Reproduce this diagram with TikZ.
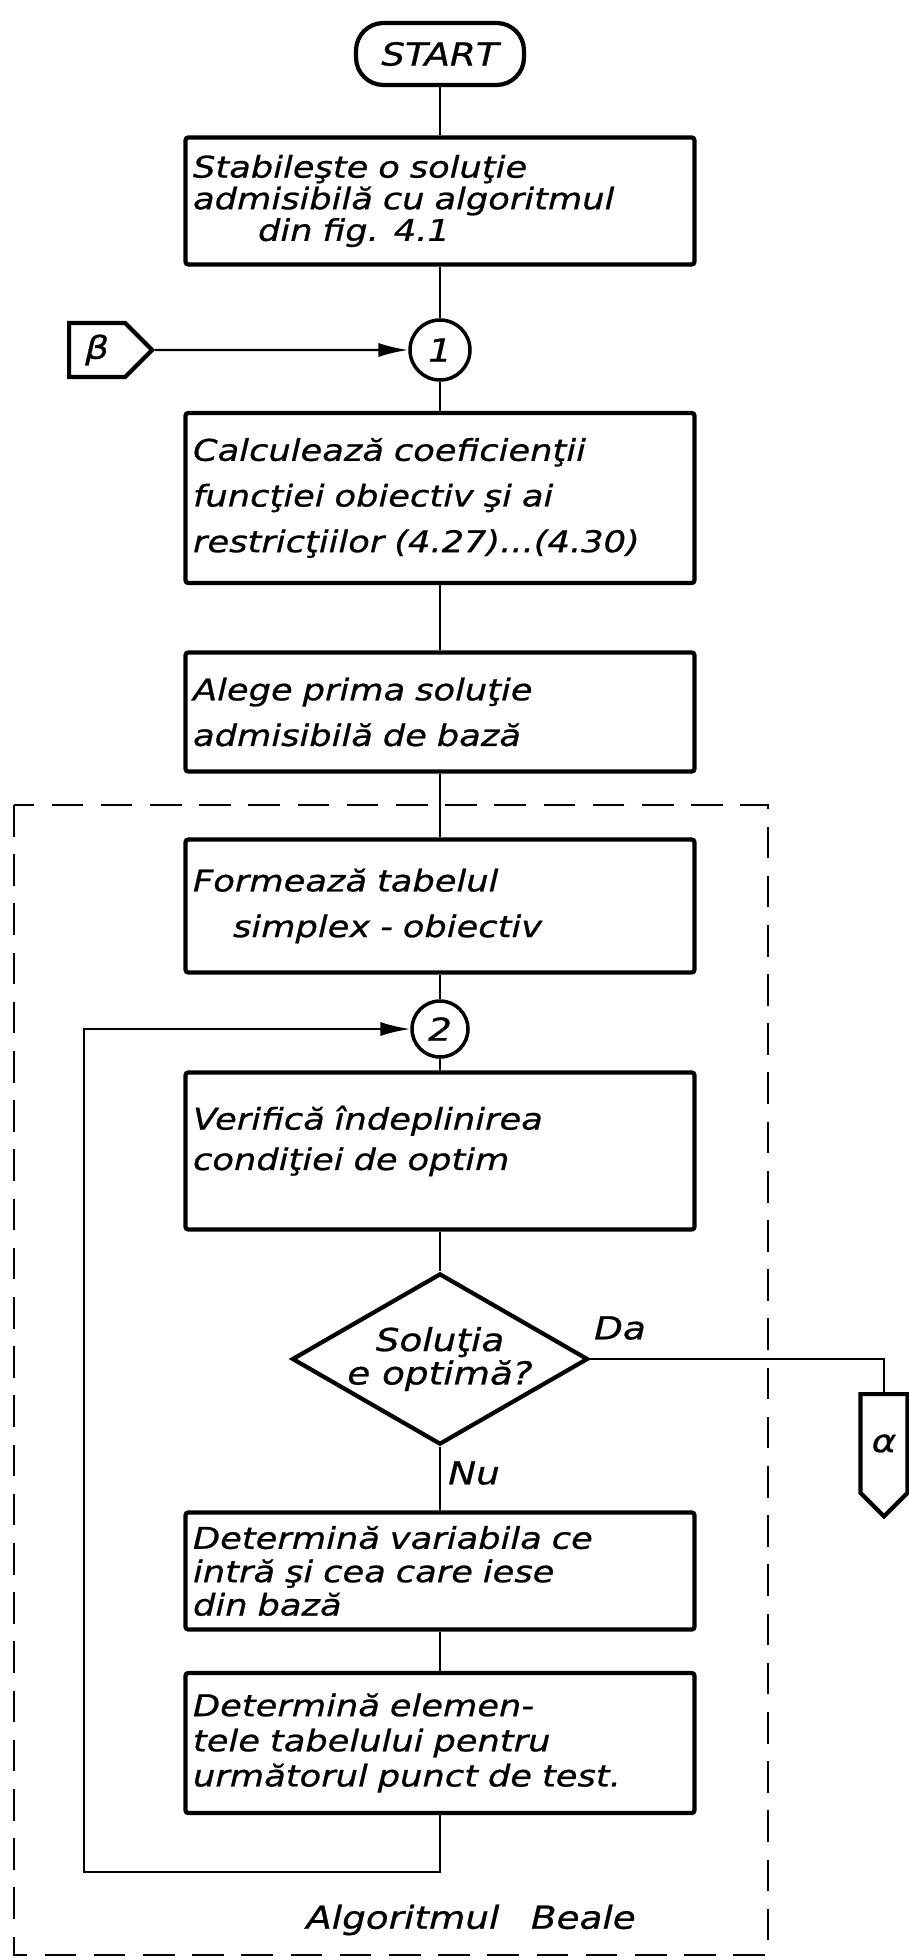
\documentclass[tikz,border=0pt]{standalone}
\usepackage{fontspec}
\newfontfamily\hand[FakeStretch=1.18, FakeBold=0.8]{DejaVu Sans}
\usetikzlibrary{shapes.geometric,shapes.symbols,arrows.meta}

\tikzset{
  flow/.style={line width=1.4pt},
  back/.style={flow,-{Latex[length=17pt,width=8pt]}},
  proc/.style={draw, line width=2.4pt, rounded corners=1.5pt, text width=9.88cm,
    inner xsep=0.15cm, align=left, font=\hand\itshape\fontsize{17pt}{#1}\selectfont},
  proc/.default=26pt,
  conn/.style={draw, circle, line width=2pt, minimum size=1.2cm, inner sep=0pt,
    font=\hand\itshape\fontsize{18pt}{20pt}\selectfont},
  port/.style={draw, signal, line width=2.4pt, signal pointer angle=90, inner sep=0pt,
    font=\hand\itshape\fontsize{18pt}{20pt}\selectfont},
  tag/.style={font=\hand\itshape\fontsize{18pt}{20pt}\selectfont},
  group/.style={line width=1.6pt, dash pattern=on 18pt off 10pt}
}

\begin{document}
\begin{tikzpicture}[x=0.02cm, y=-0.02cm]
  \useasboundingbox (0,0) rectangle (909,1960);

  % main column
  \node[draw, line width=2.4pt, rounded corners=0.55cm, minimum width=3.36cm,
    minimum height=1.24cm, tag] (start) at (440,54) {START};
  \node[proc=18pt, minimum height=2.54cm] (s1) at (440,201)
    {Stabileşte o soluţie\\admisibilă cu algoritmul\\\hspace{1.3cm}din fig. 4.1};
  \node[conn] (c1) at (440,350) {1};
  \node[proc, minimum height=3.4cm] (s2) at (440,498)
    {Calculează coeficienţii\\funcţiei obiectiv şi ai\\restricţiilor (4.27)...(4.30)};
  \node[proc, minimum height=2.38cm] (s3) at (440,712)
    {Alege prima soluţie\\admisibilă de bază};

  % Beale block
  \draw[group] (14,805) rectangle (768,1955);
  \node[proc, minimum height=2.66cm] (s4) at (440,906)
    {Formează tabelul\\\hspace{0.8cm}simplex - obiectiv};
  \node[conn, minimum size=1.12cm] (c2) at (440,1029) {2};
  \node[proc=23pt, minimum height=3.14cm] (s5) at (440,1151)
    {Verifică îndeplinirea\\condiţiei de optim\\[-8pt]\mbox{}};
  \node[draw, diamond, line width=2.4pt, aspect=1.73, minimum width=5.62cm,
    minimum height=3.24cm, inner sep=0pt, align=center,
    font=\hand\itshape\fontsize{18pt}{19pt}\selectfont] (dec) at (440,1359)
    {Soluţia\\e optimă?};
  \node[proc=19pt, minimum height=2.34cm] (s6) at (440,1571)
    {Determină variabila ce\\intră şi cea care iese\\din bază};
  \node[proc=20pt, minimum height=2.8cm] (s7) at (440,1743)
    {Determină elemen-\\tele tabelului pentru\\următorul punct de test.};
  \node[tag] (beale) at (471,1920) {Algoritmul\quad Beale};

  % entry and exit points
  \node[port, signal to=east, minimum width=1.66cm, minimum height=1.08cm,
    anchor=west] (beta) at (67,350) {β};
  \node[port, signal to=south, minimum width=0.94cm, minimum height=2.22cm,
    anchor=north] (alpha) at (884,1392) {α};
  \node[tag] (da) at (620,1328) {Da};
  \node[tag] (nu) at (474,1473) {Nu};
  \coordinate (loop) at (84,1872);

  % connections
  \draw[flow] (start) -- (s1);
  \draw[flow] (s1) -- (c1);
  \draw[flow] (c1) -- (s2);
  \draw[flow] (s2) -- (s3);
  \draw[flow] (s3) -- (s4);
  \draw[flow] (s4) -- (c2);
  \draw[flow] (c2) -- (s5);
  \draw[flow] (s5) -- (dec);
  \draw[flow] (dec) -- (s6);
  \draw[flow] (s6) -- (s7);
  \draw[back] (beta) -- (c1);
  \draw[flow] (dec.east) -| (alpha.north);
  \draw[back] (s7.south) |- (loop) |- (c2.west);
\end{tikzpicture}
\end{document}
